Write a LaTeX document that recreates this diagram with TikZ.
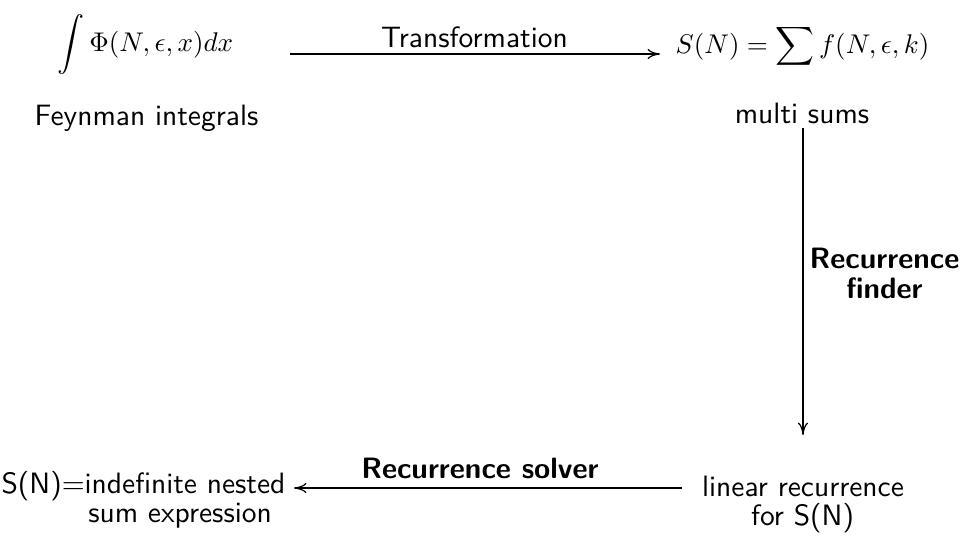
\documentclass[tikz,border=0pt]{standalone}
\usepackage{amsmath}
\usetikzlibrary{arrows.meta}
\renewcommand{\familydefault}{\sfdefault}
\begin{document}
\begin{tikzpicture}[x=0.37pt,y=-0.37pt,
  lbl/.style={inner sep=0pt,anchor=base,font=\fontsize{10.9}{13}\selectfont},
  mlbl/.style={inner sep=0pt,anchor=base,font=\fontsize{10.25}{13}\selectfont},
  blbl/.style={inner sep=0pt,anchor=base,font=\fontsize{10.9}{13}\selectfont\bfseries},
  arr/.style={-{To[length=4.6pt,width=3.8pt]},line width=0.45pt}]
\useasboundingbox (0,0) rectangle (963,535);
\node[mlbl] (int) at (145.5,51) {$\displaystyle\int \Phi(N,\epsilon,x)dx$};
\node[lbl] (feyn) at (146.5,125) {Feynman integrals};
\node[mlbl] (sum) at (802.5,53) {$S(N)=\displaystyle\sum f(N,\epsilon,k)$};
\node[lbl] (multi) at (802,123) {multi sums};
\node[lbl] (lin1) at (803,496) {linear recurrence};
\node[lbl] (lin2) at (802.5,525) {for S(N)};
\node[lbl] (res1) at (143.5,493) {S(N)=indefinite nested};
\node[lbl] (res2) at (180,522) {sum expression};
\coordinate (t1) at (290,54);
\coordinate (t2) at (660,54);
\draw[arr] (t1) -- (t2);
\node[lbl] (tl) at (474.5,47) {Transformation};
\coordinate (v1) at (803,128);
\coordinate (v2) at (803,435);
\draw[arr] (v1) -- (v2);
\node[blbl] (rf1) at (884.5,268) {Recurrence};
\node[blbl] (rf2) at (884.5,298) {finder};
\coordinate (b1) at (682,488);
\coordinate (b2) at (294,488);
\draw[arr] (b1) -- (b2);
\node[blbl] (bl) at (480,478) {Recurrence solver};
\end{tikzpicture}
\end{document}
